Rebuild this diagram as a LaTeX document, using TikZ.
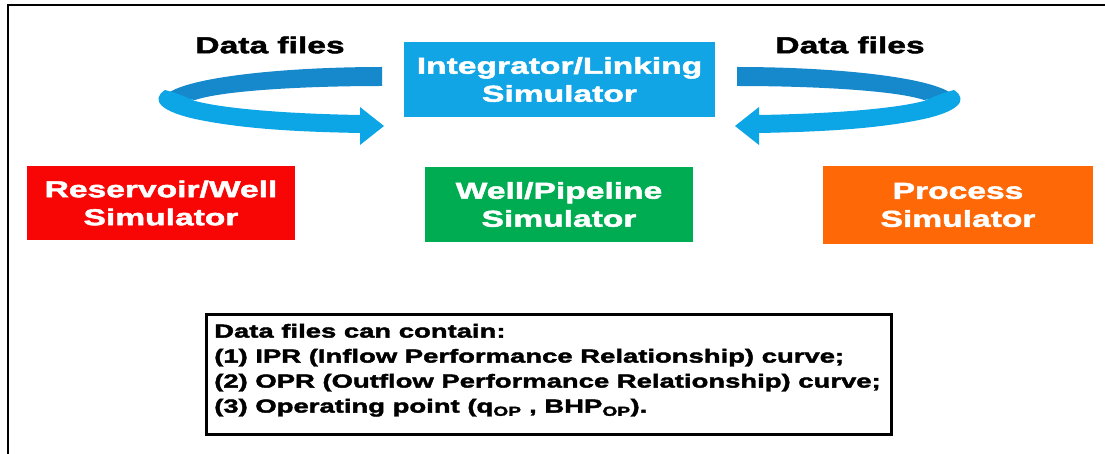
\documentclass[tikz,border=0pt]{standalone}
\usepackage{fontspec}
\newfontfamily\hv{Liberation Sans}[UprightFont={* Bold}, FakeStretch=1.46, FakeBold=2.2]
\definecolor{boxblue}{RGB}{18,165,230}
\definecolor{bandback}{RGB}{22,136,204}
\definecolor{bandfront}{RGB}{12,166,230}
\definecolor{boxgreen}{RGB}{0,172,82}
\definecolor{boxred}{RGB}{248,6,6}
\definecolor{boxorange}{RGB}{255,104,6}
\tikzset{
  simbox/.style={rectangle, text=white, align=center, inner sep=0pt,
    font=\hv\fontsize{23}{28}\selectfont},
  toplabel/.style={text=black, inner sep=0pt, font=\hv\fontsize{23}{26}\selectfont},
  notebox/.style={draw=black, line width=2.5pt, rectangle,
    inner xsep=8pt, inner ysep=0pt, font=\hv\fontsize{18.8}{25}\selectfont},
  ribbonback/.style={fill=bandback},
  ribbonfront/.style={fill=bandfront}
}
\begin{document}
\begin{tikzpicture}[x=1pt,y=-1pt]
\useasboundingbox (0,0) rectangle (1105,454);
\fill[white] (0,0) rectangle (1105,454);
% outer frame (clipped at right and bottom)
\draw[line width=2pt] (8,454) -- (8,5) -- (1105,5);

% boxes
\node[simbox, fill=boxblue, minimum width=311pt, minimum height=75pt] (integ) at (559.5,79.5) {Integrator/Linking\\Simulator};
\node[simbox, fill=boxgreen, minimum width=268pt, minimum height=75pt] (well) at (559,204.5) {Well/Pipeline\\Simulator};
\node[simbox, fill=boxred, minimum width=268pt, minimum height=74pt] (res) at (161,203) {Reservoir/Well\\Simulator};
\node[simbox, fill=boxorange, minimum width=270pt, minimum height=78pt] (proc) at (958,205) {Process\\Simulator};

% labels
\node[toplabel] (dl) at (270,45) {Data files};
\node[toplabel] (dr) at (850,45) {Data files};

% left ribbon arrow
\fill[ribbonback] (382,67) -- (382,86) .. controls (310,86) and (225,90) .. (195,100)
  -- (165,96) .. controls (180,78) and (280,67) .. (382,67) -- cycle;
\fill[ribbonfront] (165,90) .. controls (150,100) and (160,112) .. (200,120)
  .. controls (250,130) and (310,132) .. (360,133) -- (360,145) -- (384,126) -- (360,107)
  -- (360,115) .. controls (300,114) and (230,110) .. (195,101)
  .. controls (188,98) and (180,94) .. (165,90) -- cycle;

% right ribbon arrow (mirror image)
\begin{scope}[shift={(1119,0)}, xscale=-1]
\fill[ribbonback] (382,67) -- (382,86) .. controls (310,86) and (225,90) .. (195,100)
  -- (165,96) .. controls (180,78) and (280,67) .. (382,67) -- cycle;
\fill[ribbonfront] (165,90) .. controls (150,100) and (160,112) .. (200,120)
  .. controls (250,130) and (310,132) .. (360,133) -- (360,145) -- (384,126) -- (360,107)
  -- (360,115) .. controls (300,114) and (230,110) .. (195,101)
  .. controls (188,98) and (180,94) .. (165,90) -- cycle;
\end{scope}

% note box
\node[notebox, anchor=north west, minimum width=685pt, minimum height=120pt] (note) at (205,313)
{\raisebox{4pt}[\height][\depth]{\parbox{669pt}{Data files can contain:\\
(1) IPR (Inflow Performance Relationship) curve;\\
(2) OPR (Outflow Performance Relationship) curve;\\
(3) Operating point (q\textsubscript{OP} , BHP\textsubscript{OP}).}}};
\end{tikzpicture}
\end{document}
